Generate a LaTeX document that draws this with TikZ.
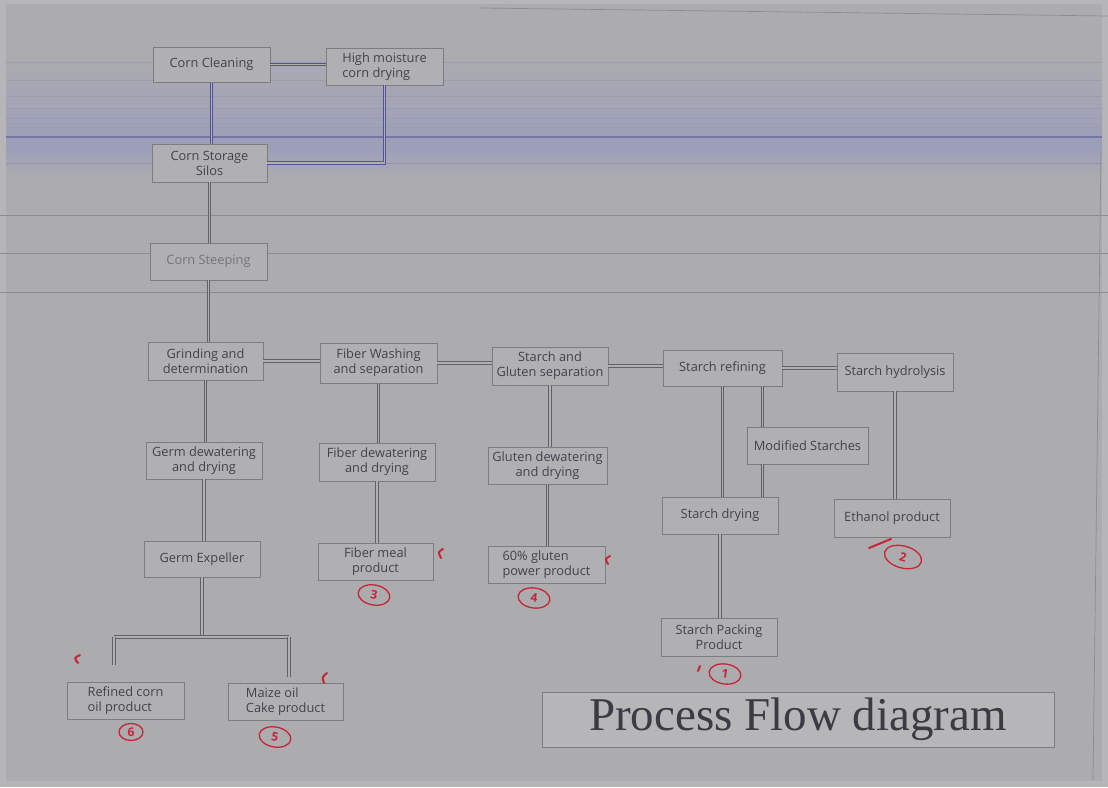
\documentclass[tikz,border=0pt]{standalone}
\usepackage{fontspec}
\setmainfont{Open Sans}
\newfontfamily\titlefont{Liberation Serif}
\usetikzlibrary{shapes.geometric}
\definecolor{outer}{RGB}{182,182,184}
\definecolor{pagebg}{RGB}{172,172,174}
\definecolor{boxfill}{RGB}{176,176,178}
\definecolor{boxline}{RGB}{125,125,128}
\definecolor{txt}{RGB}{66,66,76}
\definecolor{conn}{RGB}{98,98,102}
\definecolor{bconn}{RGB}{82,82,160}
\definecolor{band}{RGB}{156,158,186}
\definecolor{rulec}{RGB}{140,140,144}
\definecolor{markc}{RGB}{200,35,55}
\tikzset{
  box/.style={draw=boxline, fill=boxfill, line width=0.8pt, inner sep=1pt, text=txt,
    font=\fontsize{12.8}{15}\selectfont, align=center},
  link/.style={draw=conn, line width=1.1pt, double=boxfill, double distance=1.5pt},
  blink/.style={link, draw=bconn},
  num/.style={ellipse, draw=markc, line width=1.3pt, text=markc, inner sep=1pt,
    minimum width=32pt, minimum height=20pt, font=\fontsize{12}{12}\selectfont\bfseries},
  tickmark/.style={draw=markc, line width=2pt, line cap=round},
}
\begin{document}
\begin{tikzpicture}[x=1pt,y=-1pt]
\useasboundingbox (0,0) rectangle (1108,787);
% paper
\fill[outer] (0,0) rectangle (1108,787);
\fill[pagebg] (6,4) rectangle (1102,781);
\shade[top color=pagebg, bottom color=band] (6,50) rectangle (1102,147);
\shade[top color=band, bottom color=pagebg] (6,147) rectangle (1102,178);
\foreach \yy in {62,80,96,108,118,127}
  \draw[bconn!18!pagebg, line width=0.7pt] (6,\yy) -- (1102,\yy);
\draw[bconn!60!pagebg, line width=1.2pt] (6,137) -- (1102,137);
\draw[bconn!28!pagebg, line width=0.7pt] (6,163) -- (1102,163);
\foreach \yy in {215,253,292}
  \draw[rulec, line width=0.7pt] (0,\yy) -- (1108,\yy);
\draw[rulec, line width=0.7pt] (480,8) -- (1108,16);
\draw[rulec, line width=0.7pt] (1101,150) -- (1093,780);

% boxes
\node[box, minimum width=117pt, minimum height=35pt] (clean) at (211.5,64.5) {Corn Cleaning};
\node[box, minimum width=117pt, minimum height=37pt, align=left] (moist) at (384.5,66.5) {High moisture\\corn drying};
\node[box, minimum width=115pt, minimum height=38pt] (silos) at (209.5,163) {Corn Storage\\Silos};
\node[box, minimum width=117pt, minimum height=37pt, text=txt!55!boxfill] (steep) at (208.5,261.5) {Corn Steeping};
\node[box, minimum width=115pt, minimum height=38pt] (grind) at (205.5,361) {Grinding and\\determination};
\node[box, minimum width=117pt, minimum height=40pt] (fwash) at (378.5,363) {Fiber Washing\\and separation};
\node[box, minimum width=116pt, minimum height=38pt] (sgsep) at (550,366) {Starch and\\Gluten separation};
\node[box, minimum width=119pt, minimum height=36pt] (refin) at (722.5,368) {Starch refining};
\node[box, minimum width=116pt, minimum height=38pt] (hydro) at (895,372) {Starch hydrolysis};
\node[box, minimum width=121pt, minimum height=37pt] (modif) at (807.5,445.5) {Modified Starches};
\node[box, minimum width=116pt, minimum height=37pt] (sdry) at (720,515.5) {Starch drying};
\node[box, minimum width=116pt, minimum height=38pt] (ethan) at (892,518) {Ethanol product};
\node[box, minimum width=116pt, minimum height=38pt] (spack) at (719,637) {Starch Packing\\Product};
\node[box, minimum width=119pt, minimum height=37pt] (gdew) at (547.5,465.5) {Gluten dewatering\\and drying};
\node[box, minimum width=117pt, minimum height=37pt, align=left] (gprod) at (546.5,564.5) {60\% gluten\\power product};
\node[box, minimum width=116pt, minimum height=38pt] (fdew) at (377,462) {Fiber dewatering\\and drying};
\node[box, minimum width=115pt, minimum height=37pt] (fmeal) at (375.5,561.5) {Fiber meal\\product};
\node[box, minimum width=116pt, minimum height=37pt] (germd) at (204,460.5) {Germ dewatering\\and drying};
\node[box, minimum width=116pt, minimum height=36pt] (gexp) at (202,559) {Germ Expeller};
\node[box, minimum width=117pt, minimum height=37pt, align=left] (rcorn) at (125.5,700.5) {Refined corn\\oil product};
\node[box, minimum width=115pt, minimum height=37pt, align=left] (maize) at (285.5,701.5) {Maize oil\\Cake product};
\node[draw=boxline, fill=outer, line width=0.8pt, minimum width=512pt, minimum height=55pt,
  text=txt!90!black, font=\titlefont\fontsize{47}{50}\selectfont] (title) at (798,719.5) {Process Flow diagram};

% connectors
\draw[blink] (clean.east) -- (clean.east -| moist.west);
\draw[blink] (clean.south) -- (clean.south |- silos.north);
\draw[blink] (moist.south) |- (silos.east);
\draw[link] (silos.south) -- (silos.south |- steep.north);
\draw[link] (steep.south) -- (steep.south |- grind.north);
\draw[link] (grind.east) -- (grind.east -| fwash.west);
\draw[link] (fwash.east) -- (fwash.east -| sgsep.west);
\draw[link] (sgsep.east) -- (sgsep.east -| refin.west);
\draw[link] (refin.east) -- (refin.east -| hydro.west);
\draw[link] (grind.south) -- (grind.south |- germd.north);
\draw[link] (germd.south) -- (germd.south |- gexp.north);
\draw[link] (fwash.south) -- (fwash.south |- fdew.north);
\draw[link] (fdew.south) -- (fdew.south |- fmeal.north);
\draw[link] (sgsep.south) -- (sgsep.south |- gdew.north);
\draw[link] (gdew.south) -- (gdew.south |- gprod.north);
\draw[link] (refin.south) -- (refin.south |- sdry.north);
\coordinate (rm) at ([xshift=40pt]refin.south);
\draw[link] (rm) -- (rm |- modif.north);
\draw[link] (modif.south -| rm) -- (rm |- sdry.north);
\draw[link] (hydro.south) -- (hydro.south |- ethan.north);
\draw[link] (sdry.south) -- (sdry.south |- spack.north);
% germ expeller split
\coordinate (bar) at (202,637);
\coordinate (bl) at (114,637);
\coordinate (br) at (289,637);
\coordinate (blend) at (114,665);
\coordinate (brend) at (289,677);
\draw[link] (gexp.south) -- (bar);
\draw[link] (bl) -- (br);
\draw[link] (bl) -- (blend);
\draw[link] (br) -- (brend);

% red annotations
\node[num, rotate=-8] (n1) at (725,674) {1};
\node[num, rotate=-15, minimum width=38pt, minimum height=22pt] (n2) at (903,557) {2};
\node[num, rotate=-10] (n3) at (374,595) {3};
\node[num, rotate=-8] (n4) at (534,598) {4};
\node[num, rotate=-10] (n5) at (275,737) {5};
\node[num, minimum width=24pt, minimum height=17pt] (n6) at (131,732) {6};
\draw[tickmark] (700,666) -- (698,671);
\draw[tickmark] (869,548) -- (891,539);
\draw[tickmark] (443,549) .. controls (438,552) .. (441,558);
\draw[tickmark] (610,556) .. controls (605,559) .. (608,564);
\draw[tickmark] (327,673) .. controls (322,677) .. (324,683);
\draw[tickmark] (80,655) .. controls (74,658) .. (78,663);
\end{tikzpicture}
\end{document}
